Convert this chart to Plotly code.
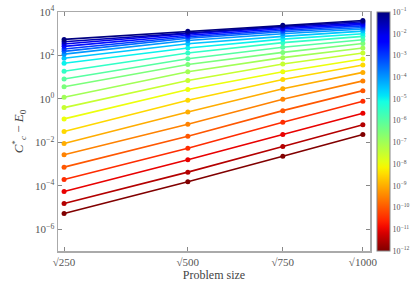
import numpy as np
import plotly.graph_objects as go

# problem sizes (x = sqrt(N))
problem_sizes = [250, 500, 750, 1000]
size_labels = ["√250", "√500", "√750", "√1000"]

# tolerance exponents (colour), from 1e-12 to 1e-1 in half decades
tol_exp = [-12, -11.5, -11, -10.5, -10, -9.5, -9, -8.5, -8, -7.5, -7, -6.5,
           -6, -5.5, -5, -4.5, -4, -3.5, -3, -2.5, -2, -1.5, -1]

# log10 of C_c^* - E_0 for each tolerance at each problem size
log_err_250 = [-5.27, -4.81, -4.26, -3.71, -3.14, -2.57, -2.05, -1.50, -0.92, -0.40,
               0.08, 0.56, 0.92, 1.27, 1.64, 1.87, 2.06, 2.19, 2.30, 2.42, 2.53, 2.63, 2.74]
log_err_500 = [-3.81, -3.37, -2.80, -2.27, -1.72, -1.17, -0.60, -0.06, 0.43, 0.85,
               1.25, 1.58, 1.85, 2.11, 2.34, 2.54, 2.69, 2.79, 2.86, 2.93, 3.00, 3.05, 3.11]
log_err_750 = [-2.64, -2.19, -1.64, -1.07, -0.54, -0.02, 0.47, 0.89, 1.25, 1.61,
               1.90, 2.14, 2.38, 2.59, 2.75, 2.88, 3.00, 3.09, 3.16, 3.23, 3.29, 3.34, 3.39]
log_err_1000 = [-1.64, -1.19, -0.66, -0.11, 0.38, 0.83, 1.22, 1.56, 1.84, 2.11,
                2.34, 2.55, 2.72, 2.88, 3.00, 3.12, 3.22, 3.29, 3.36, 3.43, 3.49, 3.55, 3.61]

cbar_exp = list(range(-12, 0))


def jet(v):
    v = min(max(v, 0.0), 1.0)
    r = np.interp(v, [0, 0.35, 0.66, 0.89, 1], [0, 0, 1, 1, 0.5])
    g = np.interp(v, [0, 0.125, 0.375, 0.64, 0.91, 1], [0, 0, 1, 1, 0, 0])
    b = np.interp(v, [0, 0.11, 0.34, 0.65, 1], [0.5, 1, 1, 0, 0])
    return "rgb(%d,%d,%d)" % (round(r * 255), round(g * 255), round(b * 255))


lo, hi = -12, -1
x = np.sqrt(problem_sizes)
data = np.array([log_err_250, log_err_500, log_err_750, log_err_1000]).T

fig = go.Figure()
for k, te in enumerate(tol_exp):
    p = (te - lo) / (hi - lo)
    c = jet(1 - p)
    fig.add_trace(go.Scatter(
        x=x, y=10 ** data[k], mode="lines+markers",
        line=dict(color=c, width=1.6),
        marker=dict(color=c, size=5, symbol="circle"),
        showlegend=False, hoverinfo="skip"))

stops = np.linspace(0, 1, 41)
colorscale = [[float(s), jet(1 - s)] for s in stops]
fig.add_trace(go.Scatter(
    x=[None], y=[None], mode="markers", showlegend=False,
    marker=dict(color=[lo, hi], cmin=lo, cmax=hi, colorscale=colorscale, size=0,
                showscale=True,
                colorbar=dict(x=(377 - 58) / 312, xanchor="left", xpad=0,
                              y=0.5, yanchor="middle", len=1, lenmode="fraction",
                              ypad=0, thickness=13, outlinewidth=1, outlinecolor="#888",
                              tickvals=cbar_exp,
                              ticktext=["10<sup>−%d</sup>" % (-e) for e in cbar_exp],
                              ticks="", ticklen=0,
                              tickfont=dict(family="Liberation Serif", size=8, color="#555")))))

font = dict(family="Liberation Serif", size=11, color="#555")
yt = [-6, -4, -2, 0, 2, 4]
fig.update_xaxes(range=[15.49, 32.0], tickvals=list(x), ticktext=size_labels,
                 ticks="inside", ticklen=4, tickcolor="#888", showline=True,
                 linecolor="#aaa", linewidth=1.5, mirror="ticks", showgrid=False,
                 zeroline=False, tickfont=font,
                 title=dict(text="Problem size", font=dict(family="Liberation Serif", size=12, color="#444"),
                            standoff=4))
fig.update_yaxes(type="log", range=[-7, 4], tickvals=[10.0 ** e for e in yt],
                 ticktext=["10<sup>%s</sup>" % (str(e).replace("-", "−")) for e in yt],
                 ticks="inside", ticklen=4, tickcolor="#888", showline=True,
                 linecolor="#aaa", linewidth=1.5, mirror="ticks", showgrid=False,
                 zeroline=False, tickfont=font,
                 title=dict(text="<i>C</i><sup>*</sup><sub><i>c</i></sub> − <i>E</i><sub>0</sub>",
                            font=dict(family="Liberation Serif", size=13, color="#444"),
                            standoff=8))
fig.update_layout(width=415, height=300, margin=dict(l=58, r=45, t=12, b=49, autoexpand=False),
                  plot_bgcolor="white", paper_bgcolor="white")
fig.write_html("out.html", config={"displayModeBar": False, "staticPlot": True},
               post_script="document.body.style.margin='0px';")
